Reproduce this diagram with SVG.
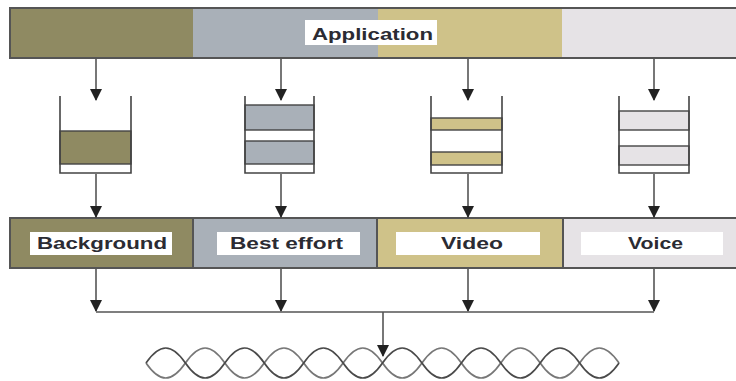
<svg xmlns="http://www.w3.org/2000/svg" width="736" height="381" viewBox="0 0 736 381">
  <style>
    .frame { fill: none; stroke: #555; stroke-width: 2; }
    .bg { fill: #8f8a62; }
    .be { fill: #a9b0b8; }
    .vi { fill: #cfc289; }
    .vo { fill: #e6e3e6; }
    .label { fill: #ffffff; }
    .txt { font-family: "Liberation Sans", Arial, sans-serif; font-weight: bold; font-size: 17px; fill: #2b2b33; text-anchor: start; }
    .queue { fill: none; stroke: #444; stroke-width: 1.6; }
    .slot { stroke: #444; stroke-width: 1.4; }
    .wire { fill: none; stroke: #555; stroke-width: 1.6; }
    .wave { fill: none; stroke: #4a4a4a; stroke-width: 1.7; }
  </style>
  <defs>
    <marker id="head" viewBox="0 0 12 12" refX="11" refY="6" markerWidth="12" markerHeight="12" markerUnits="userSpaceOnUse" orient="auto">
      <path d="M0,0 L12,6 L0,12 Z" fill="#222"/>
    </marker>
  </defs>

  <rect width="736" height="381" fill="#ffffff"/>

  <!-- application bar -->
  <g id="application">
    <rect class="bg" x="10" y="8" width="183" height="50"/>
    <rect class="be" x="193" y="8" width="185" height="50"/>
    <rect class="vi" x="378" y="8" width="184" height="50"/>
    <rect class="vo" x="562" y="8" width="178" height="50"/>
    <rect class="frame" x="10" y="8" width="730" height="50"/>
    <rect class="label" x="305" y="20" width="132" height="25"/>
    <text class="txt" x="312" y="40" textLength="121" lengthAdjust="spacingAndGlyphs">Application</text>
  </g>

  <!-- per-class queues -->
  <g id="queue-background">
    <rect class="bg slot" x="60" y="131" width="71" height="33"/>
    <path class="queue" d="M60,96 V173 H131 V96"/>
  </g>
  <g id="queue-best-effort">
    <rect class="be slot" x="245" y="105" width="69" height="25"/>
    <rect class="be slot" x="245" y="141" width="69" height="23"/>
    <path class="queue" d="M245,96 V173 H314 V96"/>
  </g>
  <g id="queue-video">
    <rect class="vi slot" x="431" y="118" width="71" height="12"/>
    <rect class="vi slot" x="431" y="152" width="71" height="13"/>
    <path class="queue" d="M431,96 V173 H502 V96"/>
  </g>
  <g id="queue-voice">
    <rect class="vo slot" x="619" y="111" width="70" height="19"/>
    <rect class="vo slot" x="619" y="146" width="70" height="19"/>
    <path class="queue" d="M619,96 V173 H689 V96"/>
  </g>

  <!-- access categories -->
  <g id="categories">
    <rect class="bg" x="10" y="218" width="183" height="50"/>
    <rect class="be" x="193" y="218" width="184" height="50"/>
    <rect class="vi" x="377" y="218" width="186" height="50"/>
    <rect class="vo" x="563" y="218" width="177" height="50"/>
    <rect class="frame" x="10" y="218" width="730" height="50"/>
    <path class="frame" d="M193,218 V268 M377,218 V268 M563,218 V268"/>
  </g>
  <g id="cat-background">
    <rect class="label" x="30" y="232" width="142" height="23"/>
    <text class="txt" x="37" y="249" textLength="130" lengthAdjust="spacingAndGlyphs">Background</text>
  </g>
  <g id="cat-best-effort">
    <rect class="label" x="217" y="232" width="143" height="23"/>
    <text class="txt" x="230" y="249" textLength="113" lengthAdjust="spacingAndGlyphs">Best effort</text>
  </g>
  <g id="cat-video">
    <rect class="label" x="396" y="232" width="144" height="23"/>
    <text class="txt" x="441" y="249" textLength="62" lengthAdjust="spacingAndGlyphs">Video</text>
  </g>
  <g id="cat-voice">
    <rect class="label" x="581" y="232" width="142" height="23"/>
    <text class="txt" x="628" y="249" textLength="55" lengthAdjust="spacingAndGlyphs">Voice</text>
  </g>

  <!-- radio channel -->
  <g id="channel">
    <path class="wave" d="M146,363 c13.8,-20 25.6,-20 39.42,0 c13.8,20 25.6,20 39.42,0 c13.8,-20 25.6,-20 39.42,0 c13.8,20 25.6,20 39.42,0 c13.8,-20 25.6,-20 39.42,0 c13.8,20 25.6,20 39.42,0 c13.8,-20 25.6,-20 39.42,0 c13.8,20 25.6,20 39.42,0 c13.8,-20 25.6,-20 39.42,0 c13.8,20 25.6,20 39.42,0 c13.8,-20 25.6,-20 39.42,0 c13.8,20 25.6,20 39.42,0"/>
    <path class="wave" stroke-opacity="0.75" d="M146,363 c13.8,20 25.6,20 39.42,0 c13.8,-20 25.6,-20 39.42,0 c13.8,20 25.6,20 39.42,0 c13.8,-20 25.6,-20 39.42,0 c13.8,20 25.6,20 39.42,0 c13.8,-20 25.6,-20 39.42,0 c13.8,20 25.6,20 39.42,0 c13.8,-20 25.6,-20 39.42,0 c13.8,20 25.6,20 39.42,0 c13.8,-20 25.6,-20 39.42,0 c13.8,20 25.6,20 39.42,0 c13.8,-20 25.6,-20 39.42,0"/>
  </g>

  <!-- connectors -->
  <g id="connectors" class="wire">
    <line x1="96" y1="59" x2="96" y2="100" marker-end="url(#head)"/>
    <line x1="281" y1="59" x2="281" y2="100" marker-end="url(#head)"/>
    <line x1="468" y1="59" x2="468" y2="100" marker-end="url(#head)"/>
    <line x1="654" y1="59" x2="654" y2="100" marker-end="url(#head)"/>

    <line x1="96" y1="174" x2="96" y2="217" marker-end="url(#head)"/>
    <line x1="281" y1="174" x2="281" y2="217" marker-end="url(#head)"/>
    <line x1="468" y1="174" x2="468" y2="217" marker-end="url(#head)"/>
    <line x1="654" y1="174" x2="654" y2="217" marker-end="url(#head)"/>

    <line x1="96" y1="269" x2="96" y2="311" marker-end="url(#head)"/>
    <line x1="281" y1="269" x2="281" y2="311" marker-end="url(#head)"/>
    <line x1="468" y1="269" x2="468" y2="311" marker-end="url(#head)"/>
    <line x1="654" y1="269" x2="654" y2="311" marker-end="url(#head)"/>

    <line x1="96" y1="312" x2="654" y2="312"/>
    <line x1="383" y1="312" x2="383" y2="356" marker-end="url(#head)"/>
  </g>
</svg>
